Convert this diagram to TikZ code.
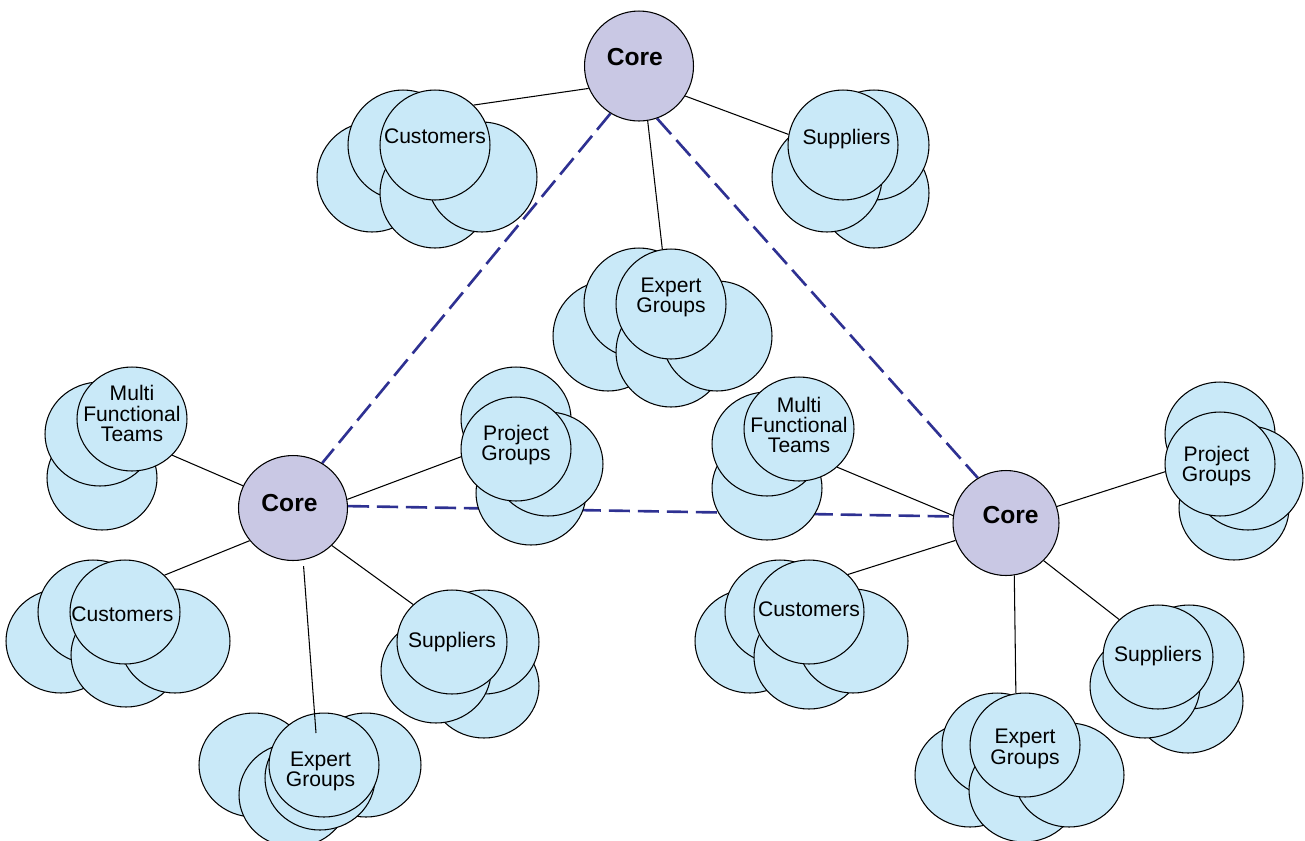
\documentclass[tikz,border=0pt]{standalone}
\usepackage{fontspec}
\setmainfont{Liberation Sans}
\usetikzlibrary{shapes.geometric,backgrounds}
\definecolor{grpfill}{RGB}{201,233,248}
\definecolor{corefill}{RGB}{201,200,228}
\definecolor{tieblue}{RGB}{46,49,146}
\tikzset{
core/.style = {draw, fill=corefill, ellipse, inner sep=0pt, minimum width=2.18cm, minimum height=2.1cm},
grp/.style = {draw, fill=grpfill, ellipse, inner sep=0pt, minimum width=2.2cm, minimum height=2.08cm},
grptop/.style = {grp, minimum height=2.2cm},
txt/.style = {font=\fontsize{12}{11.5}\selectfont, align=center, inner sep=0pt},
coretxt/.style = {font=\bfseries\fontsize{14}{14}\selectfont, inner sep=0pt},
link/.style = {draw, line width=0.6pt},
tie/.style = {draw=tieblue, line width=1.5pt, dash pattern=on 12pt off 4.5pt}
}
\begin{document}
\begin{tikzpicture}[x=0.02cm, y=-0.02cm, line width=0.6pt]
  \useasboundingbox (0,0) rectangle (1305,840);

  % top core and its groups
  \node [core, minimum height=2.2cm, label={[coretxt, xshift=-2.4pt, yshift=5.1pt]center:Core}] (tcore) at (639,66) {};
  \node [grptop] (tc1) at (372,177) {};
  \node [grptop] (tc2) at (403,145) {};
  \node [grptop] (tc3) at (435,193) {};
  \node [grptop] (tc4) at (482,177) {};
  \node [grptop, label={[txt, yshift=4.8pt]center:Customers}] (tcf) at (435,145) {};
  \node [grptop] (ts1) at (874,193) {};
  \node [grptop] (ts2) at (874,145) {};
  \node [grptop] (ts3) at (827,177) {};
  \node [grptop, label={[txt, xshift=2pt, yshift=3.5pt]center:Suppliers}] (tsf) at (843,145) {};
  \node [grptop] (te1) at (608,336) {};
  \node [grptop] (te2) at (639,303) {};
  \node [grptop] (te3) at (671,352) {};
  \node [grptop] (te4) at (717,336) {};
  \node [grptop, label={[txt, yshift=3.7pt]center:Expert\\Groups}] (tef) at (671,304) {};

  % left core and its groups
  \node [core, label={[coretxt, xshift=-2pt, yshift=2.8pt]center:Core}] (lcore) at (293,508) {};
  \node [grp] (lm1) at (102,478) {};
  \node [grp] (lm2) at (100,434) {};
  \node [grp, label={[txt, yshift=3.1pt]center:Multi\\Functional\\Teams}] (lmf) at (132,419) {};
  \node [grp] (lp1) at (516,419) {};
  \node [grp] (lp2) at (531,493) {};
  \node [grp] (lp3) at (548,464) {};
  \node [grp, label={[txt, yshift=2.4pt]center:Project\\Groups}] (lpf) at (516,449) {};
  \node [grp] (lc1) at (61,641) {};
  \node [grp] (lc2) at (93,612) {};
  \node [grp] (lc3) at (126,655) {};
  \node [grp] (lc4) at (175,641) {};
  \node [grp, label={[txt, xshift=-1.5pt, yshift=-1pt]center:Customers}] (lcf) at (125,612) {};
  \node [grp] (le1) at (254,765) {};
  \node [grp] (le2) at (366,765) {};
  \node [grp] (le3) at (294,795) {};
  \node [grp] (le4) at (320,778) {};
  \node [grp, label={[txt, xshift=-2pt, yshift=-3.5pt]center:Expert\\Groups}] (lef) at (324,765) {};
  \node [grp] (ls1) at (484,686) {};
  \node [grp] (ls2) at (484,642) {};
  \node [grp] (ls3) at (436,671) {};
  \node [grp, label={[txt]center:Suppliers}] (lsf) at (452,642) {};
  \coordinate (leend) at (316,733);

  % right core and its groups
  \node [core, minimum width=2.12cm, label={[coretxt, xshift=2.6pt, yshift=4.5pt]center:Core}] (rcore) at (1006,523) {};
  \node [grp] (rm1) at (767,488) {};
  \node [grp] (rm2) at (767,444) {};
  \node [grp, label={[txt, yshift=2.3pt]center:Multi\\Functional\\Teams}] (rmf) at (799,429) {};
  \node [grp] (rp1) at (1220,434) {};
  \node [grp] (rp2) at (1234,508) {};
  \node [grp] (rp3) at (1248,478) {};
  \node [grp, label={[txt, xshift=-2pt, yshift=-1.2pt]center:Project\\Groups}] (rpf) at (1220,464) {};
  \node [grp] (rc1) at (750,641) {};
  \node [grp] (rc2) at (780,612) {};
  \node [grp] (rc3) at (809,657) {};
  \node [grp] (rc4) at (853,641) {};
  \node [grp, label={[txt, yshift=1.7pt]center:Customers}] (rcf) at (809,612) {};
  \node [grp] (re1) at (970,775) {};
  \node [grp] (re2) at (997,745) {};
  \node [grp] (re3) at (1024,790) {};
  \node [grp] (re4) at (1069,775) {};
  \node [grp, label={[txt, yshift=-2.2pt]center:Expert\\Groups}] (ref) at (1025,745) {};
  \node [grp] (rs1) at (1188,701) {};
  \node [grp] (rs2) at (1189,657) {};
  \node [grp] (rs3) at (1145,686) {};
  \node [grp, label={[txt, yshift=0.5pt]center:Suppliers}] (rsf) at (1158,657) {};

  \begin{scope}[on background layer]
    \draw [tie] (tcore.239) -- (lcore.57);
    \draw [tie] (tcore.289) -- (rcore.122);
    \draw [tie] (lcore.2) -- (rcore.173);
    \draw [link] (tcore.204) -- (tcf.46);
    \draw [link] (tcore.327) -- (tsf.169);
    \draw [link] (tcore.279) -- (tef.99);
    \draw [link] (lcore.156) -- (lmf.318);
    \draw [link] (lcore.9) -- (lpf.188);
    \draw [link] (lcore.217) -- (lcf.43);
    \draw [link] (lcore.316) -- (lsf.136);
    \draw [link] (rcore.172) -- (rmf.315);
    \draw [link] (rcore.18) -- (rpf.188);
    \draw [link] (rcore.199) -- (rcf.44);
    \draw [link] (rcore.279) -- (ref.100);
    \draw [link] (rcore.315) -- (rsf.136);
  \end{scope}
  \draw [link, shorten <=0.12cm] (lcore.281) -- (leend);
\end{tikzpicture}
\end{document}
